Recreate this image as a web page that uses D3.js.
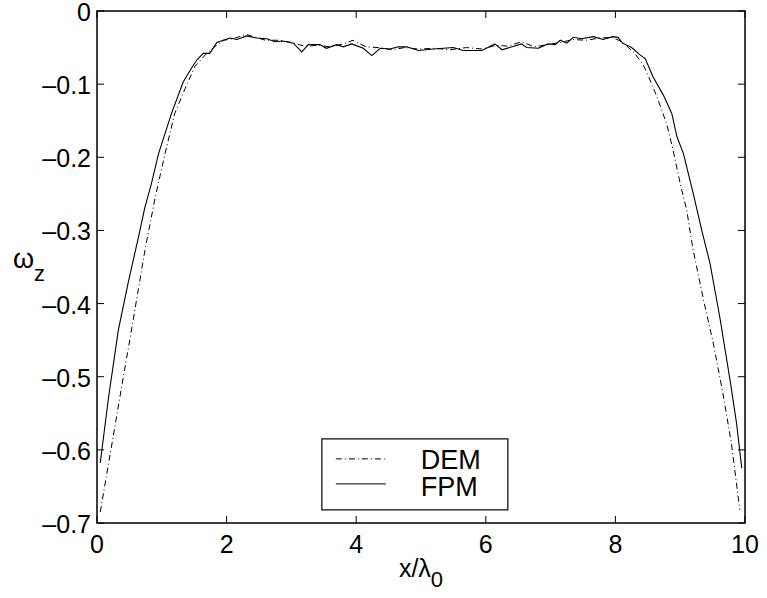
<!DOCTYPE html>
<html>
<head>
<meta charset="utf-8">
<script src="https://cdn.jsdelivr.net/npm/d3@7"></script>
<style>
  body { margin: 0; background: #fff; }
  text { font-family: "Liberation Sans", Arial, sans-serif; fill: #000; }
</style>
</head>
<body>
<div id="chart"></div>
<script>
// values
let xTicks = [0, 2, 4, 6, 8, 10]
let yTicks = [0, -0.1, -0.2, -0.3, -0.4, -0.5, -0.6, -0.7]

let fpmX = [0.05, 0.18, 0.33, 0.48, 0.64, 0.74, 0.84, 0.95, 1.15, 1.33, 1.46, 1.54, 1.64, 1.74, 1.85,
    2.05, 2.16, 2.31, 2.46, 2.62, 2.75, 2.87, 3.03, 3.16, 3.26, 3.44, 3.54, 3.70, 3.80, 3.93,
    4.11, 4.24, 4.37, 4.52, 4.65, 4.78, 4.96, 5.19, 5.50, 5.65, 5.94, 6.14, 6.25, 6.55, 6.63,
    6.81, 6.96, 7.07, 7.15, 7.25, 7.35, 7.48, 7.66, 7.81, 7.96, 8.04, 8.11, 8.25, 8.38, 8.46,
    8.58, 8.74, 8.87, 8.95, 9.05, 9.20, 9.33, 9.46, 9.61, 9.77, 9.87, 9.95]
let fpmY = [-0.618, -0.527, -0.436, -0.372, -0.309, -0.268, -0.236, -0.195, -0.140, -0.097, -0.078, -0.067, -0.058, -0.058, -0.043,
    -0.037, -0.039, -0.034, -0.037, -0.038, -0.042, -0.041, -0.044, -0.056, -0.046, -0.046, -0.051, -0.046, -0.049, -0.045,
    -0.051, -0.061, -0.051, -0.052, -0.049, -0.049, -0.054, -0.052, -0.050, -0.054, -0.054, -0.045, -0.053, -0.045, -0.050,
    -0.051, -0.045, -0.046, -0.040, -0.044, -0.036, -0.038, -0.035, -0.039, -0.035, -0.036, -0.044, -0.050, -0.060, -0.065,
    -0.090, -0.115, -0.140, -0.172, -0.195, -0.249, -0.299, -0.345, -0.418, -0.505, -0.564, -0.625]

let demX = [0.05, 0.18, 0.38, 0.54, 0.74, 0.90, 1.05, 1.20, 1.36, 1.51, 1.67, 1.80,
    1.95, 2.10, 2.30, 2.45, 2.60, 2.80, 3.00, 3.20, 3.40, 3.60, 3.80, 3.95, 4.15, 4.35,
    4.55, 4.75, 4.95, 5.20, 5.45, 5.70, 5.95, 6.15, 6.35, 6.55, 6.75, 6.95, 7.15, 7.35,
    7.55, 7.75, 7.95, 8.10, 8.30, 8.43, 8.48, 8.64, 8.79, 8.89, 9.00, 9.10, 9.20, 9.36,
    9.51, 9.66, 9.79, 9.92]
let demY = [-0.685, -0.618, -0.514, -0.432, -0.327, -0.254, -0.195, -0.140, -0.106, -0.076, -0.060, -0.050,
    -0.040, -0.038, -0.032, -0.036, -0.040, -0.040, -0.043, -0.048, -0.047, -0.049, -0.045, -0.040, -0.049, -0.050,
    -0.053, -0.050, -0.052, -0.051, -0.053, -0.050, -0.052, -0.047, -0.048, -0.042, -0.049, -0.046, -0.043, -0.039,
    -0.040, -0.037, -0.036, -0.042, -0.058, -0.074, -0.083, -0.117, -0.154, -0.190, -0.236, -0.272, -0.327, -0.395,
    -0.454, -0.523, -0.591, -0.682]

let W = 767, H = 598
let margin = {top: 11, right: 22, bottom: 75, left: 97}
let width = W - margin.left - margin.right
let height = H - margin.top - margin.bottom

let svg = d3.select("#chart").append("svg")
    .attr("width", W)
    .attr("height", H)
    .style("background", "#fff")

let g = svg.append("g")
    .attr("transform", `translate(${margin.left},${margin.top})`)

let x = d3.scaleLinear().domain([0, 10]).range([0, width])
let y = d3.scaleLinear().domain([-0.7, 0]).range([height, 0])

let fpm = fpmX.map((v, i) => [v, fpmY[i]])
let dem = demX.map((v, i) => [v, demY[i]])

let line = d3.line().x(d => x(d[0])).y(d => y(d[1]))

g.append("path").datum(dem)
    .attr("d", line)
    .attr("fill", "none")
    .attr("stroke", "#000")
    .attr("stroke-width", 1)
    .attr("stroke-dasharray", "6,3,1,3")

g.append("path").datum(fpm)
    .attr("d", line)
    .attr("fill", "none")
    .attr("stroke", "#000")
    .attr("stroke-width", 1.1)

// box + inward ticks on all four sides
let tickLen = 7
g.append("rect")
    .attr("width", width).attr("height", height)
    .attr("fill", "none").attr("stroke", "#000").attr("stroke-width", 1.5)

xTicks.forEach(t => {
    g.append("line").attr("x1", x(t)).attr("x2", x(t)).attr("y1", height).attr("y2", height - tickLen)
        .attr("stroke", "#000")
    g.append("line").attr("x1", x(t)).attr("x2", x(t)).attr("y1", 0).attr("y2", tickLen)
        .attr("stroke", "#000")
    g.append("text").attr("x", x(t)).attr("y", height + 30)
        .attr("text-anchor", "middle").attr("font-size", "25px")
        .text(t)
})

yTicks.forEach(t => {
    g.append("line").attr("x1", 0).attr("x2", tickLen).attr("y1", y(t)).attr("y2", y(t))
        .attr("stroke", "#000")
    g.append("line").attr("x1", width).attr("x2", width - tickLen).attr("y1", y(t)).attr("y2", y(t))
        .attr("stroke", "#000")
    g.append("text").attr("x", -6).attr("y", y(t) + 10)
        .attr("text-anchor", "end").attr("font-size", "25px")
        .text(t === 0 ? "0" : "\u2013" + Math.abs(t).toFixed(1))
})

// axis labels
let xl = g.append("text")
    .attr("x", width / 2).attr("y", height + 54)
    .attr("text-anchor", "middle").attr("font-size", "25px")
xl.append("tspan").text("x/\u03bb")
xl.append("tspan").attr("dy", 10).attr("font-size", "22px").text("0")

let yl = svg.append("text")
    .attr("x", 13).attr("y", 268)
    .attr("font-size", "27px")
yl.append("tspan").text("\u03c9")
yl.append("tspan").attr("dy", 13).attr("font-size", "22px").text("z")

// legend
let leg = g.append("g").attr("transform", `translate(${x(3.47)},${y(-0.585)})`)
leg.append("rect")
    .attr("width", 186).attr("height", 71)
    .attr("fill", "#fff").attr("stroke", "#000").attr("stroke-width", 1.2)
let legItems = [{name: "DEM", dash: "6,3,1,3"}, {name: "FPM", dash: null}]
legItems.forEach((d, i) => {
    let yy = 20 + i * 25
    leg.append("line").attr("x1", 14).attr("x2", 64).attr("y1", yy).attr("y2", yy)
        .attr("stroke", "#000").attr("stroke-dasharray", d.dash)
    leg.append("text").attr("x", 99).attr("y", yy + 10 + i * 2)
        .attr("font-size", "27px").text(d.name)
})
</script>
</body>
</html>
